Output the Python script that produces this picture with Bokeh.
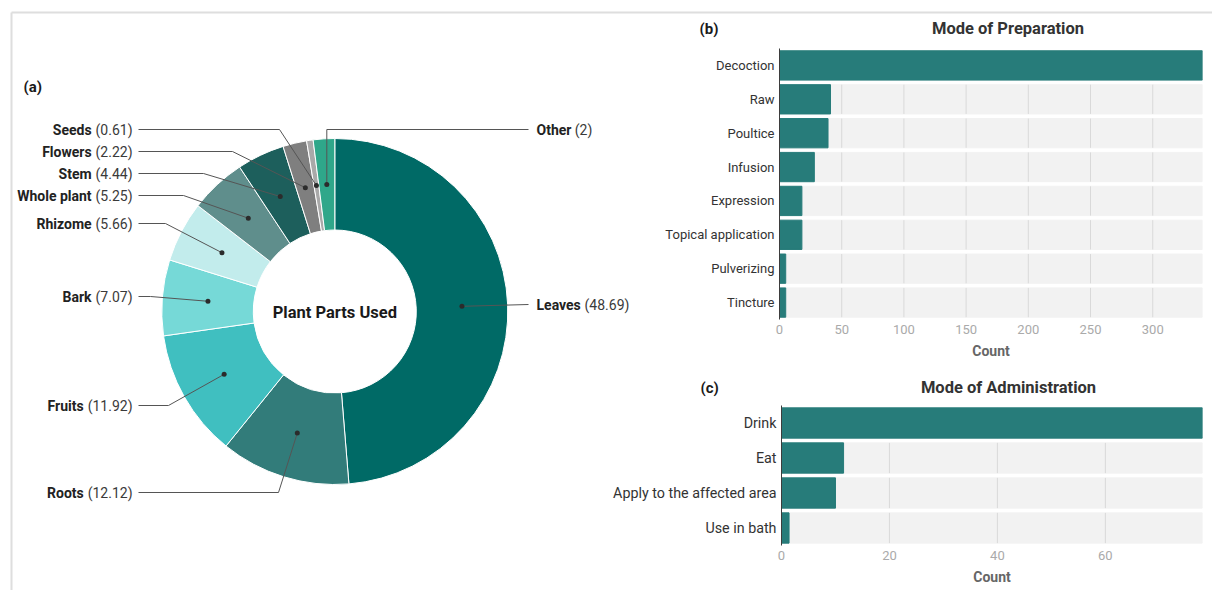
import math
from bokeh.plotting import figure
from bokeh.models import Range1d, FactorRange, FixedTicker
from bokeh.core.properties import value
from bokeh.embed import file_html
from bokeh.resources import INLINE

# ---------------- data ----------------
part_names = ["Leaves", "Roots", "Fruits", "Bark", "Rhizome", "Whole plant",
              "Stem", "Flowers", "Seeds", "Other"]
part_values = [48.69, 12.12, 11.92, 7.07, 5.66, 5.25, 4.44, 2.22, 0.61, 2]
part_colors = ["#006a66", "#327c7a", "#40bfc0", "#76d9d7", "#c2ecec",
               "#5f8e8c", "#1d5f5c", "#7f7f7f", "#a9a9a9", "#2fa78a"]

prep_modes = ["Decoction", "Raw", "Poultice", "Infusion", "Expression",
              "Topical application", "Pulverizing", "Tincture"]
prep_counts = [340, 41, 39, 28, 18, 18, 5, 5]
prep_ticks = [0, 50, 100, 150, 200, 250, 300]

admin_modes = ["Drink", "Eat", "Apply to the affected area", "Use in bath"]
admin_counts = [78, 11.5, 10, 1.4]
admin_ticks = [0, 20, 40, 60]

# ---------------- layout / style ----------------
FONT = value("Roboto")
W, H = 1212, 590
CX, CY = 334.3, H - 311
R_IN, R_OUT = 81.5, 173
R_DOT = (R_IN + R_OUT) / 2
LEFT_TEXT_X, LEFT_LINE_X = 132, 138
RIGHT_LINE_X, RIGHT_TEXT_X = 528, 536
BORDER = "#dedede"
# label row (image y) and elbow x of each leader line
label_layout = {
    "Seeds": (129, 279), "Flowers": (151, 232), "Stem": (173, 203),
    "Whole plant": (195, 183), "Rhizome": (223, 165), "Bark": (296, 150),
    "Fruits": (405, 168), "Roots": (492, 278),
    "Other": (129, None), "Leaves": (304, None),
}
right_side = ("Other", "Leaves")

REG = {d: 0.5615 for d in "0123456789"}
REG.update({"(": 0.3418, ")": 0.3477, ".": 0.2632, " ": 0.2476})
BOLD = {"O": 0.689, "t": 0.334, "h": 0.553, "e": 0.529, "r": 0.345,
        "L": 0.536, "a": 0.543, "v": 0.493, "s": 0.516}


def text_w(s, table, size):
    return sum(table.get(c, 0.55) for c in s) * size


LABEL_PX = 14

# ---------------- donut geometry from data ----------------
total = sum(part_values)
starts, ends, mids = [], [], []
cum = 0.0
for v in part_values:
    a0 = math.pi / 2 - 2 * math.pi * cum / total
    cum += v
    a1 = math.pi / 2 - 2 * math.pi * cum / total
    starts.append(a0)
    ends.append(a1)
    mids.append((a0 + a1) / 2)
dot_x = [CX + R_DOT * math.cos(m) for m in mids]
dot_y = [CY + R_DOT * math.sin(m) for m in mids]

lead_xs, lead_ys = [], []
name_x, name_y, name_t, name_al = [], [], [], []
val_x, val_y, val_t, val_al = [], [], [], []
for i, name in enumerate(part_names):
    ly, ex = label_layout[name]
    yy = H - ly
    vtxt = "(%s)" % ("%g" % part_values[i])
    if name == "Other":
        lead_xs.append([dot_x[i], dot_x[i], RIGHT_LINE_X])
        lead_ys.append([dot_y[i], yy, yy])
    elif name == "Leaves":
        lead_xs.append([dot_x[i], RIGHT_LINE_X])
        lead_ys.append([dot_y[i], yy])
    else:
        lead_xs.append([LEFT_LINE_X, ex, dot_x[i]])
        lead_ys.append([yy, yy, dot_y[i]])
    if name in right_side:
        name_x.append(RIGHT_TEXT_X); name_al.append("left")
        val_x.append(RIGHT_TEXT_X + text_w(name, BOLD, LABEL_PX) + 4); val_al.append("left")
    else:
        val_x.append(LEFT_TEXT_X); val_al.append("right")
        name_x.append(LEFT_TEXT_X - text_w(vtxt, REG, LABEL_PX) - 4); name_al.append("right")
    name_y.append(yy); name_t.append(name)
    val_y.append(yy); val_t.append(vtxt)


def place(left, top):
    return {"position": "absolute", "left": "%dpx" % left, "top": "%dpx" % top}


# ---------------- main canvas: frame, donut, panel headings ----------------
p_a = figure(width=W, height=H, x_range=Range1d(0, W), y_range=Range1d(0, H),
             x_axis_type=None, y_axis_type=None, output_backend="svg",
             toolbar_location=None, min_border=0, outline_line_color=None,
             background_fill_color="white", border_fill_color="white",
             styles=place(0, 0))
p_a.segment(x0=[11, 11], y0=[0, H - 12], x1=[11, W], y1=[H - 12, H - 12],
            line_color=BORDER, line_width=2)
p_a.annular_wedge(x=CX, y=CY, inner_radius=R_IN, outer_radius=R_OUT,
                  start_angle=starts, end_angle=ends, direction="clock",
                  fill_color=part_colors, line_color="white", line_width=1)
p_a.multi_line(xs=lead_xs, ys=lead_ys, line_color="#555555", line_width=1)
p_a.scatter(x=dot_x, y=dot_y, size=5, fill_color="#2b2b2b", line_color=None)
p_a.text(x=name_x, y=name_y, text=name_t, text_align=name_al, text_baseline="middle",
         text_font=FONT, text_font_size="%dpx" % LABEL_PX, text_font_style="bold",
         text_color="#222222")
p_a.text(x=val_x, y=val_y, text=val_t, text_align=val_al, text_baseline="middle",
         text_font=FONT, text_font_size="%dpx" % LABEL_PX, text_color="#3a3a3a")
p_a.text(x=[CX], y=[CY - 1], text=["Plant Parts Used"], text_align="center",
         text_baseline="middle", text_font=FONT, text_font_size="16.5px",
         text_font_style="bold", text_color="#1a1a1a")
p_a.text(x=[23, 699, 700], y=[H - 86, H - 28, H - 387], text=["(a)", "(b)", "(c)"],
         text_align="left", text_baseline="middle", text_font=FONT,
         text_font_size="15px", text_font_style="bold", text_color="#1a1a1a")
p_a.text(x=[1007.5, 1008], y=[H - 28, H - 387],
         text=["Mode of Preparation", "Mode of Administration"],
         text_align="center", text_baseline="middle", text_font=FONT,
         text_font_size="16.5px", text_font_style="bold", text_color="#333333")


def bar_fig(cats, vals, ticks, xmax, width, height, mb_left, mb_top, mb_bottom,
            left, top, cat_px):
    rev = list(reversed(cats))
    p = figure(width=width, height=height, x_range=Range1d(0, xmax),
               y_range=FactorRange(factors=rev), output_backend="svg",
               toolbar_location=None, min_border_left=mb_left, min_border_right=10,
               min_border_top=mb_top, min_border_bottom=mb_bottom,
               outline_line_color=None, background_fill_color=None,
               border_fill_color=None, styles=place(left, top))
    bh = 0.865
    p.hbar(y=cats, left=0, right=xmax, height=bh, color="#f2f2f2")
    gx, gy0, gy1 = [], [], []
    for c in cats:
        pos = rev.index(c) + 0.5
        for t in ticks[1:]:
            gx.append(t); gy0.append(pos - bh / 2); gy1.append(pos + bh / 2)
    p.segment(x0=gx, x1=gx, y0=gy0, y1=gy1, line_color="#d9d9d9", line_width=1)
    p.hbar(y=cats, left=0, right=vals, height=bh, color="#277c7a")
    p.xgrid.visible = False
    p.ygrid.visible = False
    xa = p.xaxis[0]
    xa.ticker = FixedTicker(ticks=ticks)
    xa.axis_label = "Count"
    xa.axis_label_text_font = "Roboto"
    xa.axis_label_text_font_size = "14px"
    xa.axis_label_text_font_style = "bold"
    xa.axis_label_text_color = "#666666"
    xa.axis_label_standoff = 6
    xa.major_label_text_font = "Roboto"
    xa.major_label_text_font_size = "13px"
    xa.major_label_text_color = "#aaaaaa"
    xa.major_label_standoff = 5
    xa.axis_line_color = None
    xa.major_tick_line_color = None
    xa.minor_tick_line_color = None
    xa.major_tick_out = 0
    xa.major_tick_in = 0
    xa.minor_tick_out = 0
    ya = p.yaxis[0]
    ya.major_label_text_font = "Roboto"
    ya.major_label_text_font_size = cat_px
    ya.major_label_text_color = "#333333"
    ya.major_label_standoff = 5
    ya.major_tick_line_color = None
    ya.minor_tick_line_color = None
    ya.major_tick_out = 0
    ya.major_tick_in = 0
    ya.axis_line_color = "#3d3d3d"
    return p


p_b = bar_fig(prep_modes, prep_counts, prep_ticks, 340, 572, 356, 139, 34, 51,
              640, 14, "13px")
p_c = bar_fig(admin_modes, admin_counts, admin_ticks, 78, 612, 220, 181, 35, 45,
              600, 370, "14.3px")

open("out.html", "w").write(file_html([p_a, p_b, p_c], INLINE,
                                      title="Plant parts and preparation"))
